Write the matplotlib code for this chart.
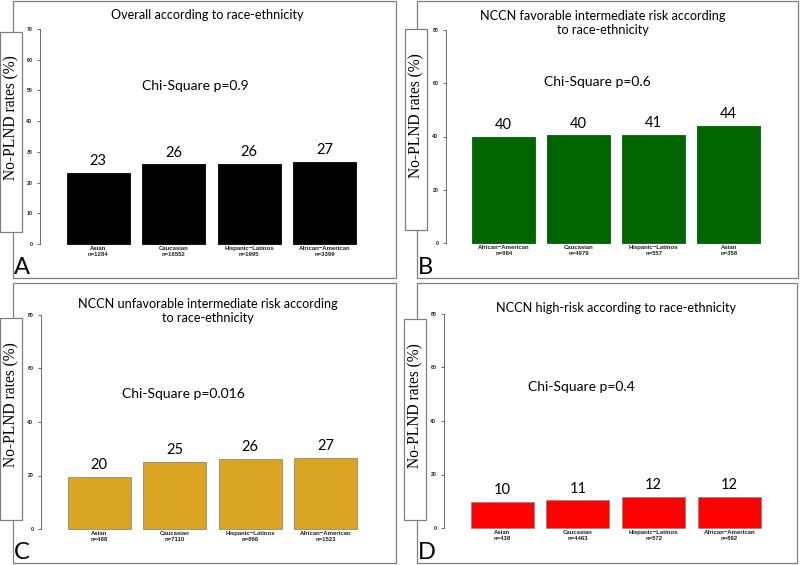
import matplotlib
matplotlib.use("Agg")
import matplotlib.pyplot as plt
from matplotlib.patches import Rectangle

W, H = 800, 565

# ---------------- data ----------------
titles = [
    "Overall according to race-ethnicity",
    "NCCN favorable intermediate risk according\nto race-ethnicity",
    "NCCN unfavorable intermediate risk according\nto race-ethnicity",
    "NCCN high-risk according to race-ethnicity",
]
pvalues = ["Chi-Square p=0.9", "Chi-Square p=0.6", "Chi-Square p=0.016", "Chi-Square p=0.4"]
panel_letters = ["A", "B", "C", "D"]

cats_A = ["Asian", "Caucasian", "Hispanic\u2212Latinos", "African\u2212American"]
n_A = ["n=1284", "n=16552", "n=1995", "n=3399"]
vals_A = [23.0, 25.9, 26.1, 26.6]
labs_A = ["23", "26", "26", "27"]

cats_B = ["African\u2212American", "Caucasian", "Hispanic\u2212Latinos", "Asian"]
n_B = ["n=984", "n=4979", "n=557", "n=358"]
vals_B = [39.9, 40.4, 40.6, 43.9]
labs_B = ["40", "40", "41", "44"]

cats_C = ["Asian", "Caucasian", "Hispanic\u2212Latinos", "African\u2212American"]
n_C = ["n=488", "n=7110", "n=866", "n=1523"]
vals_C = [19.6, 25.0, 26.2, 26.7]
labs_C = ["20", "25", "26", "27"]

cats_D = ["Asian", "Caucasian", "Hispanic\u2212Latinos", "African\u2212American"]
n_D = ["n=438", "n=4463", "n=572", "n=892"]
vals_D = [9.6, 10.3, 11.5, 11.7]
labs_D = ["10", "11", "12", "12"]

ymax_list = [70, 80, 80, 80]
ystep_list = [10, 20, 20, 20]
colors = ["#000000", "#006400", "#DAA520", "#FF0000"]
edgecolors = ["#000000", "#006400", "#8a8a8a", "#8a8a8a"]

# ---------------- layout (pixels) ----------------
frames = [(13, 1, 396, 278), (417, 1, 798, 278), (13, 283, 396, 563), (417, 283, 797, 563)]
axes_px = [(40, 244, 29), (446, 243, 30), (41, 529, 315), (444, 528, 314)]
unit_px = [75.5, 75.0, 75.5, 75.7]
yboxes = [(0, 32, 22, 232), (405, 29, 427, 230), (0, 318, 22, 520), (404, 319, 426, 520)]
title_pos = [(207, 15), (603, 23), (208, 311), (616, 308)]
chi_pos = [(195, 86), (597, 82), (183, 394), (581, 387)]
letter_pos = [(14, 278), (418, 278), (14, 563), (418, 563)]

fig = plt.figure(figsize=(W / 100, H / 100), dpi=100)
fig.patch.set_facecolor("white")

def fx(px):
    return px / W

def fy(py):
    return 1 - py / H

TXT = "Lato"
XL0 = -0.77

data = [(cats_A, n_A, vals_A, labs_A), (cats_B, n_B, vals_B, labs_B),
        (cats_C, n_C, vals_C, labs_C), (cats_D, n_D, vals_D, labs_D)]

for i in range(4):
    cats, ns, vals, labs = data[i]
    x0, y0, x1, y1 = frames[i]
    fig.add_artist(Rectangle((fx(x0), fy(y1)), fx(x1 - x0), (y1 - y0) / H,
                             transform=fig.transFigure, fill=False,
                             edgecolor="#7f7f7f", lw=0.9, zorder=1))
    sx, yz, yt = axes_px[i]
    u = unit_px[i]
    xr = 3.6
    wpx = (xr - XL0) * u
    ax = fig.add_axes([fx(sx), fy(yz), wpx / W, (yz - yt) / H])
    ax.set_facecolor("none")
    ax.set_xlim(XL0, xr)
    ax.set_ylim(0, ymax_list[i])
    xs = list(range(len(vals)))
    ax.bar(xs, vals, width=63 / u, color=colors[i], edgecolor=edgecolors[i],
           linewidth=0.6, clip_on=False)
    for x, v, lab in zip(xs, vals, labs):
        ax.annotate(lab, (x, v), xytext=(0, 3.5), textcoords="offset points",
                    ha="center", va="bottom", fontsize=10.5, family=TXT)
    for s in ["top", "right", "bottom"]:
        ax.spines[s].set_visible(False)
    ax.spines["left"].set_color("#555555")
    ax.spines["left"].set_linewidth(0.6)
    ax.set_yticks(range(0, ymax_list[i] + 1, ystep_list[i]))
    ax.tick_params(axis="y", length=2.5, width=0.6, color="#555555", pad=3,
                   labelsize=3.8, labelcolor="#222222")
    for t in ax.get_yticklabels():
        t.set_fontweight("bold")
        t.set_family("Liberation Sans")
    ax.set_xticks(xs)
    ax.set_xticklabels([f"{c}\n{n}" for c, n in zip(cats, ns)],
                       fontsize=4.3, fontweight="bold", family="Liberation Sans",
                       linespacing=1.2, color="#222222")
    ax.tick_params(axis="x", length=0, pad=1.5)
    bx0, by0, bx1, by1 = yboxes[i]
    fig.add_artist(Rectangle((fx(bx0), fy(by1)), fx(bx1 - bx0), (by1 - by0) / H,
                             transform=fig.transFigure, facecolor="white",
                             edgecolor="#7f7f7f", lw=0.9, zorder=3))
    fig.text(fx((bx0 + bx1) / 2 + 0.5), fy((by0 + by1) / 2 - 14), "No-PLND rates (%)",
             rotation=90, ha="center", va="center", fontsize=11.2,
             family="Liberation Serif", zorder=4)
    tx, ty = title_pos[i]
    fig.text(fx(tx), fy(ty), titles[i], ha="center", va="center", fontsize=9.1,
             family=TXT, linespacing=1.25)
    cx, cy = chi_pos[i]
    fig.text(fx(cx), fy(cy), pvalues[i], ha="center", va="center", fontsize=10,
             family=TXT)
    lx, ly = letter_pos[i]
    fig.text(fx(lx), fy(ly), panel_letters[i], ha="left", va="bottom",
             fontsize=17, family=TXT)

fig.savefig("out.png", dpi=100, facecolor="white")
